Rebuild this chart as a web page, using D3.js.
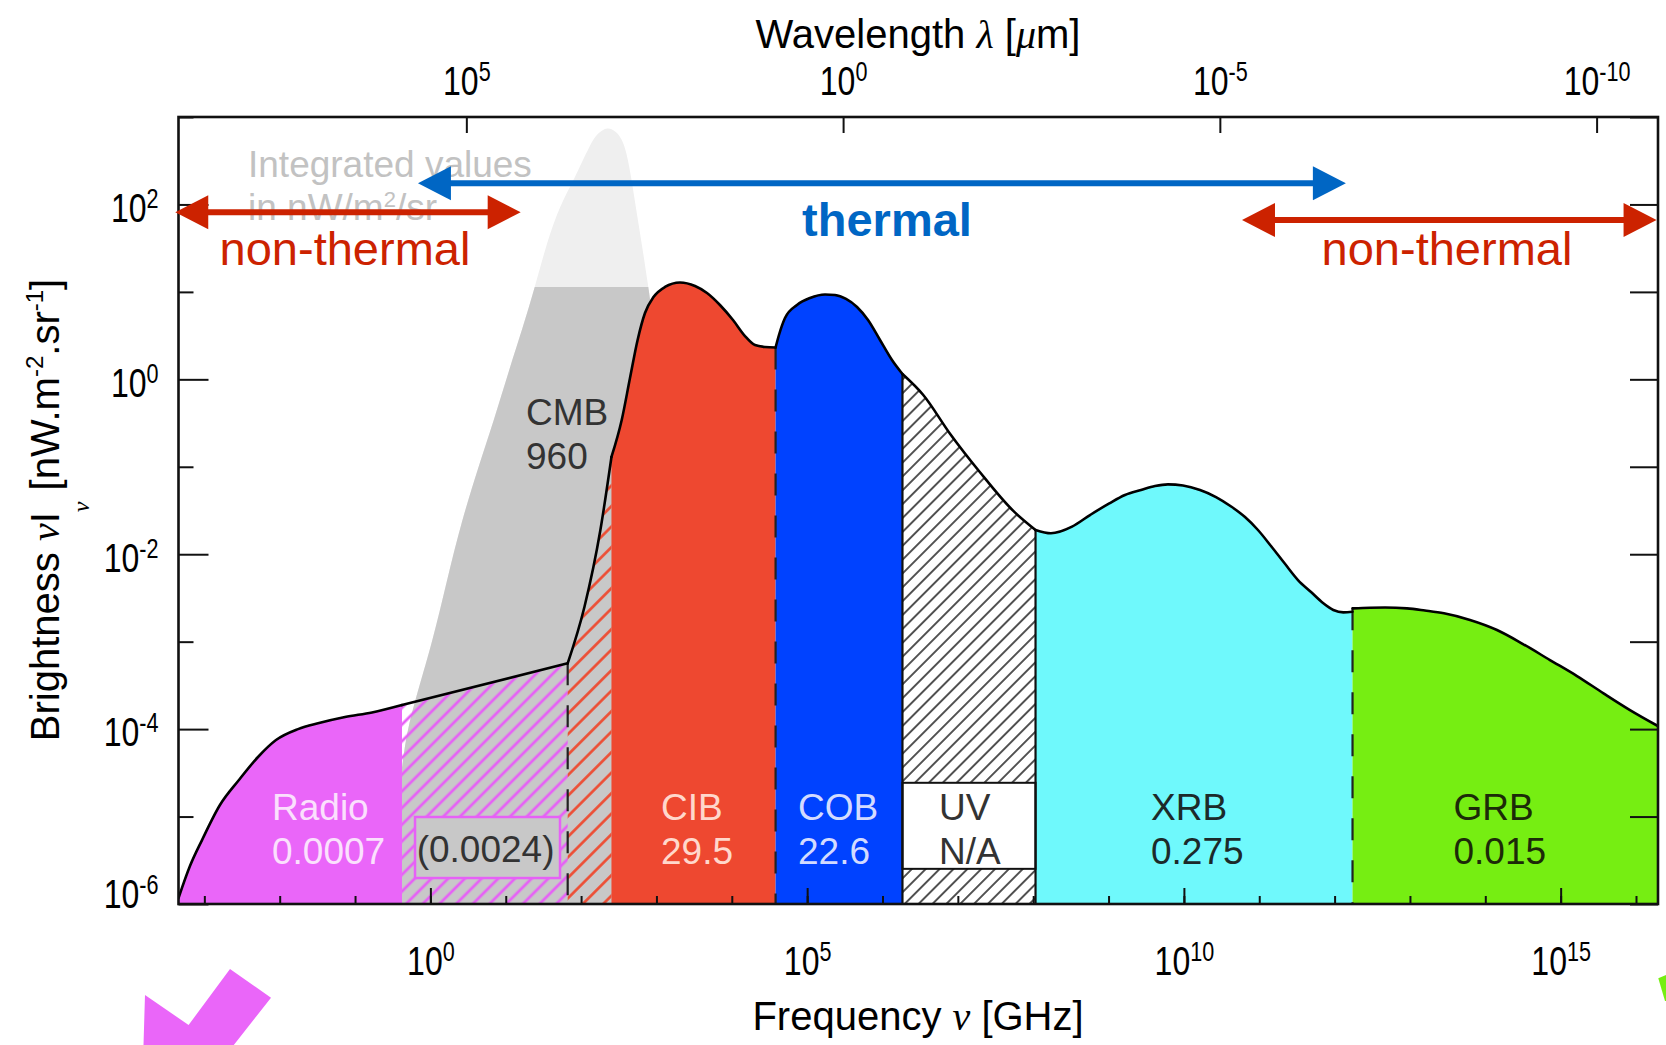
<!DOCTYPE html>
<html>
<head>
<meta charset="utf-8">
<script src="https://cdn.jsdelivr.net/npm/d3@7"></script>
<style>
  body { margin: 0; background: #fff; }
  svg { display: block; }
  text { font-family: "Liberation Sans", Arial, Helvetica, sans-serif; }
</style>
</head>
<body>
<svg id="chart" width="1666" height="1045"></svg>
<script>
// all values are [log10 frequency (GHz), log10 brightness (nW m^-2 sr^-1)]
var radioCurve = [[-3.343,-5.932],[-3.191,-5.566],[-3.031,-5.269],[-2.793,-4.868],[-2.541,-4.582],[-2.288,-4.319],
  [-2.049,-4.125],[-1.757,-4.000],[-1.478,-3.931],[-1.133,-3.862],[-0.775,-3.810],[-0.377,-3.725]];
var bridgeCurve = [[-0.377,-3.725],[1.822,-3.248]];
var risingCurve = [[1.822,-3.248],[2.045,-2.600],[2.256,-1.723],[2.403,-0.888]];
var cibCurve = [[2.403,-0.888],[2.539,-0.465],[2.649,0.015],[2.750,0.450],[2.848,0.758],[2.961,0.941],[3.113,1.056],
  [3.312,1.107],[3.512,1.067],[3.671,0.987],[3.843,0.850],[4.016,0.678],[4.175,0.495],[4.308,0.392],[4.441,0.370],[4.581,0.364]];
var cobCurve = [[4.581,0.364],[4.626,0.507],[4.706,0.701],[4.865,0.850],[5.038,0.930],[5.237,0.970],[5.370,0.964],
  [5.516,0.919],[5.662,0.827],[5.808,0.678],[5.967,0.450],[6.126,0.221],[6.265,0.061]];
var uvCurve = [[6.265,0.061],[6.541,-0.179],[6.896,-0.622],[7.294,-1.063],[7.736,-1.505],[8.031,-1.723]];
var xrbCurve = [[8.031,-1.723],[8.236,-1.761],[8.515,-1.685],[8.754,-1.552],[9.010,-1.418],[9.218,-1.323],[9.431,-1.266],
  [9.617,-1.220],[9.789,-1.201],[9.988,-1.214],[10.214,-1.266],[10.426,-1.346],[10.632,-1.457],[10.811,-1.575],
  [10.983,-1.723],[11.156,-1.906],[11.336,-2.104],[11.514,-2.295],[11.687,-2.432],[11.846,-2.558],[11.983,-2.638],
  [12.116,-2.665],[12.238,-2.658]];
var grbCurve = [[12.238,-2.619],[12.470,-2.612],[12.669,-2.610],[12.961,-2.619],[13.199,-2.644],[13.451,-2.676],
  [13.797,-2.752],[14.155,-2.867],[14.500,-3.027],[14.858,-3.210],[15.217,-3.393],[15.569,-3.591],[15.920,-3.782],[16.292,-3.965]];
var cmbCurve = [[-0.603,-6.0],[-0.470,-5.154],[-0.350,-4.182],[-0.231,-3.747],[0.035,-2.981],[0.220,-2.295],[0.419,-1.609],
  [0.632,-1.014],[0.844,-0.465],[1.056,0.141],[1.216,0.564],[1.388,1.056],[1.543,1.559],[1.720,1.994],[1.906,2.280],
  [2.127,2.703],[2.224,2.817],[2.348,2.889],[2.463,2.840],[2.583,2.703],[2.672,2.280],[2.742,1.879],[2.804,1.559],
  [2.892,1.056],[2.937,0.793],[3.021,-0.008],[3.153,-1.380],[3.312,-3.096],[3.445,-6.0]];
var cmbFadeAbove = 1.056;

var regionNames  = ["Radio", "CMB", "CIB", "COB", "UV", "XRB", "GRB"];
var regionValues = ["0.0007", "960", "29.5", "22.6", "N/A", "0.275", "0.015"];
var hiddenValue = "(0.0024)";
var uvBox = [-4.614, -5.598];          // log brightness of the UV label box
var hiddenBox = [[-0.204, 1.720], [-5.005, -5.703]];

var thermalArrow = [[-0.165, 12.150], 2.242];
var nonThermalArrows = [[[-3.386, 1.198], 1.910], [[10.771, 16.273], 1.822]];

var yMajor = [2, 0, -2, -4, -6];
var yMinor = [3, 1, -1, -3, -5];
var xMajor = [0, 5, 10, 15];
var xMinor = d3.range(-3, 17);
var lambdaMajor = [5, 0, -5, -10];

var svg = d3.select("#chart");
var L = 178.5, R = 1658, T = 117, B = 904;
var p10 = function(v) { return Math.pow(10, v); };

var x = d3.scaleLog().domain([p10(-3.343), p10(16.292)]).range([L, R]);
var xLam = d3.scaleLog().domain([3e5 / p10(-3.343), 3e5 / p10(16.292)]).range([L, R]);
var y = d3.scaleLog().domain([1e-6, 1e3]).range([B, T]);

var px = function(d) { return x(p10(d[0])); };
var py = function(d) { return y(p10(d[1])); };

var defs = svg.append("defs");
function hatch(id, gap, color, w) {
  defs.append("pattern").attr("id", id).attr("patternUnits", "userSpaceOnUse")
    .attr("width", gap).attr("height", gap).attr("patternTransform", "rotate(45)")
    .append("line").attr("x1", gap / 2).attr("x2", gap / 2).attr("y1", -1).attr("y2", gap + 1)
    .attr("stroke", color).attr("stroke-width", w);
}
hatch("hMag", 11.8, "#e660f6", 2.8);
hatch("hRed", 14.5, "#ee4a30", 2.6);
hatch("hBlk", 9.8, "#1a1a1a", 1.5);
defs.append("clipPath").attr("id", "cmbLow").append("rect")
  .attr("x", L).attr("width", R - L).attr("y", y(p10(cmbFadeAbove))).attr("height", B - y(p10(cmbFadeAbove)));
defs.append("clipPath").attr("id", "plot").append("rect")
  .attr("x", L).attr("width", R - L).attr("y", T).attr("height", B - T);

var plot = svg.append("g").attr("clip-path", "url(#plot)");

function area(c) {
  return d3.area().x(px).y0(B).y1(py).curve(c || d3.curveMonotoneX);
}
function line(c) {
  return d3.line().x(px).y(py).curve(c || d3.curveMonotoneX);
}

// CMB
plot.append("path").datum(cmbCurve).attr("d", area(d3.curveBasis)).attr("fill", "#efefef");
plot.append("path").datum(cmbCurve).attr("d", area(d3.curveBasis)).attr("fill", "#c8c8c8").attr("clip-path", "url(#cmbLow)");

plot.append("path").datum(radioCurve).attr("d", area()).attr("fill", "#ea66f9");
plot.append("path").datum(bridgeCurve).attr("d", area(d3.curveLinear)).attr("fill", "url(#hMag)");
plot.append("path").datum(risingCurve).attr("d", area()).attr("fill", "url(#hRed)");
plot.append("path").datum(cibCurve).attr("d", area()).attr("fill", "#ee4830");
plot.append("path").datum(cobCurve).attr("d", area()).attr("fill", "#0042ff");
plot.append("path").datum(uvCurve).attr("d", area()).attr("fill", "#fff");
plot.append("path").datum(uvCurve).attr("d", area()).attr("fill", "url(#hBlk)");
plot.append("path").datum(xrbCurve).attr("d", area()).attr("fill", "#6ff9fc");
plot.append("path").datum(grbCurve).attr("d", area()).attr("fill", "#76ee12");

// UV label box
var uvX0 = px(uvCurve[0]), uvX1 = px(uvCurve[uvCurve.length - 1]);
plot.append("rect").attr("x", uvX0).attr("width", uvX1 - uvX0)
  .attr("y", y(p10(uvBox[0]))).attr("height", y(p10(uvBox[1])) - y(p10(uvBox[0])))
  .attr("fill", "#fff").attr("stroke", "#111").attr("stroke-width", 2);

// hidden radio box
plot.append("rect").attr("x", x(p10(hiddenBox[0][0]))).attr("width", x(p10(hiddenBox[0][1])) - x(p10(hiddenBox[0][0])))
  .attr("y", y(p10(hiddenBox[1][0]))).attr("height", y(p10(hiddenBox[1][1])) - y(p10(hiddenBox[1][0])))
  .attr("fill", "#c8c8c8").attr("stroke", "#e660f6").attr("stroke-width", 2.5);

// boundaries
function vline(pt, dashed) {
  plot.append("line").attr("x1", px(pt)).attr("x2", px(pt)).attr("y1", py(pt)).attr("y2", B)
    .attr("stroke", dashed ? "#222" : "#111").attr("stroke-width", 2.2)
    .attr("stroke-dasharray", dashed ? "22,20" : null);
}
vline(bridgeCurve[1], true);
vline(cibCurve[cibCurve.length - 1], true);
vline(grbCurve[0], true);
vline(cobCurve[cobCurve.length - 1], false);
vline(uvCurve[uvCurve.length - 1], false);

// outline
[[radioCurve], [bridgeCurve, d3.curveLinear], [risingCurve], [cibCurve], [cobCurve], [uvCurve], [xrbCurve], [grbCurve]]
  .forEach(function(s) {
    plot.append("path").datum(s[0]).attr("d", line(s[1])).attr("fill", "none")
      .attr("stroke", "#000").attr("stroke-width", 2.6).attr("stroke-linecap", "round").attr("stroke-linejoin", "round");
  });

// axes (tick labels in a narrow, tall face like the original)
var tickFs = 40, squeeze = 0.8;
function expLabel(sel, expOf) {
  sel.each(function(d) {
    var t = d3.select(this);
    var x0 = +t.attr("x") || 0;
    t.text(null).attr("font-size", tickFs).attr("fill", "#000")
      .attr("x", x0 / squeeze).attr("transform", "scale(" + squeeze + ",1)");
    t.append("tspan").text("10");
    t.append("tspan").attr("dy", -14).attr("font-size", 27).text(expOf(d));
  });
}
function styleAxis(g) {
  g.select(".domain").remove();
  g.selectAll(".tick line").attr("stroke", "#111").attr("stroke-width", 2);
}
var expOf = function(d) { return Math.round(Math.log10(d)); };

var gl = svg.append("g").attr("transform", "translate(" + L + ",0)")
  .call(d3.axisLeft(y).tickValues(yMajor.map(p10)).tickSize(-30).tickPadding(20));
gl.call(styleAxis);
gl.selectAll(".tick text").attr("dy", "0.42em").call(expLabel, expOf);
gl.selectAll(".tick").filter(function(d) { return d === 1e-6; }).select("text").attr("y", -13);
svg.append("g").attr("transform", "translate(" + L + ",0)")
  .call(d3.axisLeft(y).tickValues(yMinor.map(p10)).tickSize(-15).tickFormat("")).call(styleAxis);

svg.append("g").attr("transform", "translate(" + R + ",0)")
  .call(d3.axisRight(y).tickValues(yMajor.concat(yMinor).map(p10)).tickSize(-28).tickFormat("")).call(styleAxis);

var gb = svg.append("g").attr("transform", "translate(0," + B + ")")
  .call(d3.axisBottom(x).tickValues(xMajor.map(p10)).tickSize(-16).tickPadding(43));
gb.call(styleAxis);
gb.selectAll(".tick text").attr("dy", "0.71em").call(expLabel, expOf);
svg.append("g").attr("transform", "translate(0," + B + ")")
  .call(d3.axisBottom(x).tickValues(xMinor.map(p10)).tickSize(-8).tickFormat("")).call(styleAxis);

var gt = svg.append("g").attr("transform", "translate(0," + T + ")")
  .call(d3.axisTop(xLam).tickValues(lambdaMajor.map(p10)).tickSize(-16).tickPadding(22));
gt.call(styleAxis);
gt.selectAll(".tick text").attr("dy", "0em").call(expLabel, expOf);

svg.append("rect").attr("x", L).attr("y", T).attr("width", R - L).attr("height", B - T)
  .attr("fill", "none").attr("stroke", "#111").attr("stroke-width", 2.6);

// region labels
var labelPos = [[272, "#fbe0fd"], [526, "#333"], [661, "#ffd8cc"], [798, "#d3dbff"], [939, "#333"], [1151, "#1c2a2a"], [1453.5, "#1c2a08"]];
regionNames.forEach(function(n, i) {
  var lx = labelPos[i][0], col = labelPos[i][1];
  var y1 = n === "CMB" ? 425 : 820;
  svg.append("text").attr("x", lx).attr("y", y1).attr("font-size", 37).attr("fill", col).text(n);
  svg.append("text").attr("x", lx).attr("y", y1 + 44).attr("font-size", 37).attr("fill", col).text(regionValues[i]);
});
svg.append("text").attr("x", 416.7).attr("y", 862).attr("font-size", 37).attr("fill", "#333").text(hiddenValue);

// arrows
function arrow(xs, ly, color) {
  var yy = y(p10(ly)), xa = x(p10(xs[0])), xb = x(p10(xs[1]));
  var hl = 33, hw = 17;
  svg.append("line").attr("x1", xa + hl - 2).attr("x2", xb - hl + 2).attr("y1", yy).attr("y2", yy)
    .attr("stroke", color).attr("stroke-width", 6);
  svg.append("path").attr("fill", color)
    .attr("d", "M" + xa + "," + yy + "L" + (xa + hl) + "," + (yy - hw) + "L" + (xa + hl) + "," + (yy + hw) + "Z");
  svg.append("path").attr("fill", color)
    .attr("d", "M" + xb + "," + yy + "L" + (xb - hl) + "," + (yy - hw) + "L" + (xb - hl) + "," + (yy + hw) + "Z");
}

var note = svg.append("text").attr("x", 248).attr("font-size", 37).attr("fill", "#c2c2c2");
note.append("tspan").attr("x", 248).attr("y", 177).text("Integrated values");
note.append("tspan").attr("x", 248).attr("y", 220).text("in nW/m");
note.append("tspan").attr("dy", -13).attr("font-size", 22).text("2");
note.append("tspan").attr("dy", 13).text("/sr");

arrow(thermalArrow[0], thermalArrow[1], "#0066c4");
nonThermalArrows.forEach(function(a) { arrow(a[0], a[1], "#cc2200"); });

svg.append("text").attr("x", 887).attr("y", 236).attr("text-anchor", "middle").attr("font-size", 47)
  .attr("font-weight", "bold").attr("fill", "#0066c4").text("thermal");
svg.append("text").attr("x", 345).attr("y", 265).attr("text-anchor", "middle").attr("font-size", 47)
  .attr("fill", "#cc2200").text("non-thermal");
svg.append("text").attr("x", 1447).attr("y", 265).attr("text-anchor", "middle").attr("font-size", 47)
  .attr("fill", "#cc2200").text("non-thermal");

// axis titles
var greek = "'Liberation Serif', 'DejaVu Serif', serif";
var tt = svg.append("text").attr("x", 918).attr("y", 48).attr("text-anchor", "middle").attr("font-size", 40);
tt.append("tspan").text("Wavelength ");
tt.append("tspan").attr("font-family", greek).attr("font-style", "italic").text("λ");
tt.append("tspan").text(" [");
tt.append("tspan").attr("font-family", greek).attr("font-style", "italic").text("μ");
tt.append("tspan").text("m]");

var bt = svg.append("text").attr("x", 918).attr("y", 1030).attr("text-anchor", "middle").attr("font-size", 40);
bt.append("tspan").text("Frequency ");
bt.append("tspan").attr("font-family", greek).attr("font-style", "italic").text("ν");
bt.append("tspan").text(" [GHz]");

var yt = svg.append("text").attr("transform", "translate(59,510) rotate(-90)").attr("text-anchor", "middle").attr("font-size", 40);
yt.append("tspan").text("Brightness ");
yt.append("tspan").attr("font-family", greek).attr("font-style", "italic").text("ν");
yt.append("tspan").text("I");
yt.append("tspan").attr("dy", 30).attr("font-size", 24).attr("font-family", greek).attr("font-style", "italic").text("ν");
yt.append("tspan").attr("dy", -30).text("  [nW.m");
yt.append("tspan").attr("dy", -16).attr("font-size", 24).text("-2");
yt.append("tspan").attr("dy", 16).text(".sr");
yt.append("tspan").attr("dy", -16).attr("font-size", 24).text("-1");
yt.append("tspan").attr("dy", 16).text("]");

// decorative pieces of cropped arrows at the bottom edge
svg.append("polygon").attr("points", "145,995 188.6,1025 230,969 271,997.7 233.8,1045 143.5,1045").attr("fill", "#ea66f9");
svg.append("polygon").attr("points", "1658.3,978.3 1666,975 1666,1001 1665,1001").attr("fill", "#76ee12");
</script>
</body>
</html>
